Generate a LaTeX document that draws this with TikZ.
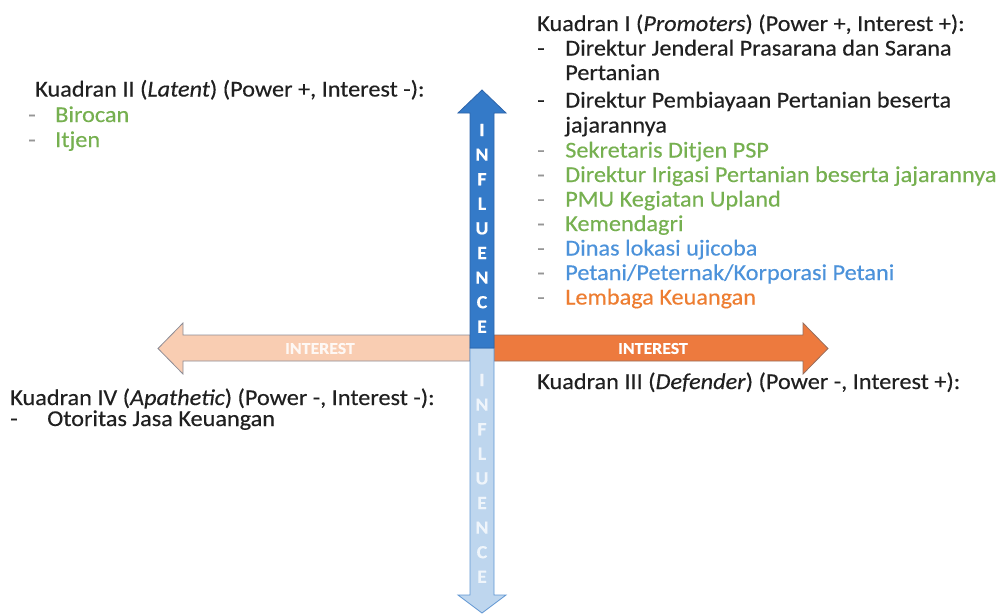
\documentclass[tikz,border=0pt]{standalone}
\usepackage{fontspec}
\setmainfont{Carlito}[FakeStretch=1.07,FakeBold=0.35]
\definecolor{ink}{RGB}{32,32,32}
\definecolor{dashgrey}{RGB}{150,150,150}
\definecolor{itemgreen}{RGB}{118,176,80}
\definecolor{itemblue}{RGB}{76,146,218}
\definecolor{itemorange}{RGB}{237,125,49}
\definecolor{upblue}{RGB}{52,122,200}
\definecolor{upblueedge}{RGB}{45,100,170}
\definecolor{downblue}{RGB}{190,214,238}
\definecolor{downblueedge}{RGB}{96,150,210}
\definecolor{rightorange}{RGB}{237,122,62}
\definecolor{rightorangeedge}{RGB}{150,110,95}
\definecolor{leftorange}{RGB}{249,205,178}
\definecolor{leftorangeedge}{RGB}{140,140,150}
\newcommand\itemdash[2]{\makebox[#1][l]{\textcolor{#2}{-}}}
\begin{document}
\begin{tikzpicture}[x=0.75pt,y=-0.75pt,
  txt/.style={anchor=base west, inner sep=0pt, text=ink,
    font=\fontsize{17}{20}\selectfont},
  green/.style={txt, text=itemgreen},
  blue/.style={txt, text=itemblue},
  orange/.style={txt, text=itemorange},
  axislabel/.style={inner sep=0pt, text=white,
    font=\fontsize{12.5}{14}\selectfont\bfseries},
  vletter/.style={inner sep=0pt, text=white,
    font=\fontsize{14}{16}\selectfont\bfseries}]
\useasboundingbox (0,0) rectangle (1005,614);

% horizontal axis: interest
\filldraw[fill=leftorange, draw=leftorangeedge, line width=0.6pt]
  (470,335) -- (183,335) -- (183,323) -- (158,348.5) -- (183,374)
  -- (183,361) -- (470,361) -- cycle;
\filldraw[fill=rightorange, draw=rightorangeedge, line width=0.6pt]
  (494,335) -- (803,335) -- (803,323) -- (828,348.5) -- (803,374)
  -- (803,361) -- (494,361) -- cycle;
\node[axislabel, text=white!85!leftorange] (intleft) at (320,348.5) {INTEREST};
\node[axislabel] (intright) at (653,348.5) {INTEREST};

% vertical axis: influence
\filldraw[fill=downblue, draw=downblueedge, line width=0.6pt]
  (470,348) -- (470,595) -- (458,595) -- (482,613) -- (506,595)
  -- (494,595) -- (494,348) -- cycle;
\filldraw[fill=upblue, draw=upblueedge, line width=0.6pt]
  (470,348) -- (470,113) -- (458,113) -- (482,90) -- (506,113)
  -- (494,113) -- (494,348) -- cycle;
\foreach \l [count=\i] in {I,N,F,L,U,E,N,C,E} {
  \node[vletter] (infup\i) at (482,{130+24.6*(\i-1)}) {\l};
  \node[vletter, text=white!75!downblue] (infdown\i) at (482,{380+24.6*(\i-1)}) {\l};
}

% Kuadran I
\node[txt] (q1h) at (537,31) {Kuadran I (\textit{Promoters}) (Power +, Interest +):};
\node[txt] (q1a) at (537,55.5) {\itemdash{21pt}{ink}Direktur Jenderal Prasarana dan Sarana};
\node[txt] (q1b) at (565,80) {Pertanian};
\node[txt] (q1c) at (537,107.5) {\itemdash{21pt}{ink}Direktur Pembiayaan Pertanian beserta};
\node[txt] (q1d) at (565,132.5) {jajarannya};
\node[green] (q1e) at (537,157.5) {\itemdash{21pt}{dashgrey}Sekretaris Ditjen PSP};
\node[green] (q1f) at (537,182) {\itemdash{21pt}{dashgrey}Direktur Irigasi Pertanian beserta jajarannya};
\node[green] (q1g) at (537,206.5) {\itemdash{21pt}{dashgrey}PMU Kegiatan Upland};
\node[green] (q1h2) at (537,231) {\itemdash{21pt}{dashgrey}Kemendagri};
\node[blue] (q1i) at (537,255.5) {\itemdash{21pt}{dashgrey}Dinas lokasi ujicoba};
\node[blue] (q1j) at (537,280) {\itemdash{21pt}{dashgrey}Petani/Peternak/Korporasi Petani};
\node[orange] (q1k) at (537,304.5) {\itemdash{21pt}{dashgrey}Lembaga Keuangan};

% Kuadran II
\node[txt] (q2h) at (35,96.5) {Kuadran II (\textit{Latent}) (Power +, Interest -):};
\node[green] (q2a) at (28,122) {\itemdash{20.25pt}{dashgrey}Birocan};
\node[green] (q2b) at (28,147) {\itemdash{20.25pt}{dashgrey}Itjen};

% Kuadran III
\node[txt] (q3h) at (537,389) {Kuadran III (\textit{Defender}) (Power -, Interest +):};

% Kuadran IV
\node[txt] (q4h) at (10,405) {Kuadran IV (\textit{Apathetic}) (Power -, Interest -):};
\node[txt] (q4a) at (10,426) {\itemdash{27.75pt}{ink}Otoritas Jasa Keuangan};
\end{tikzpicture}
\end{document}
